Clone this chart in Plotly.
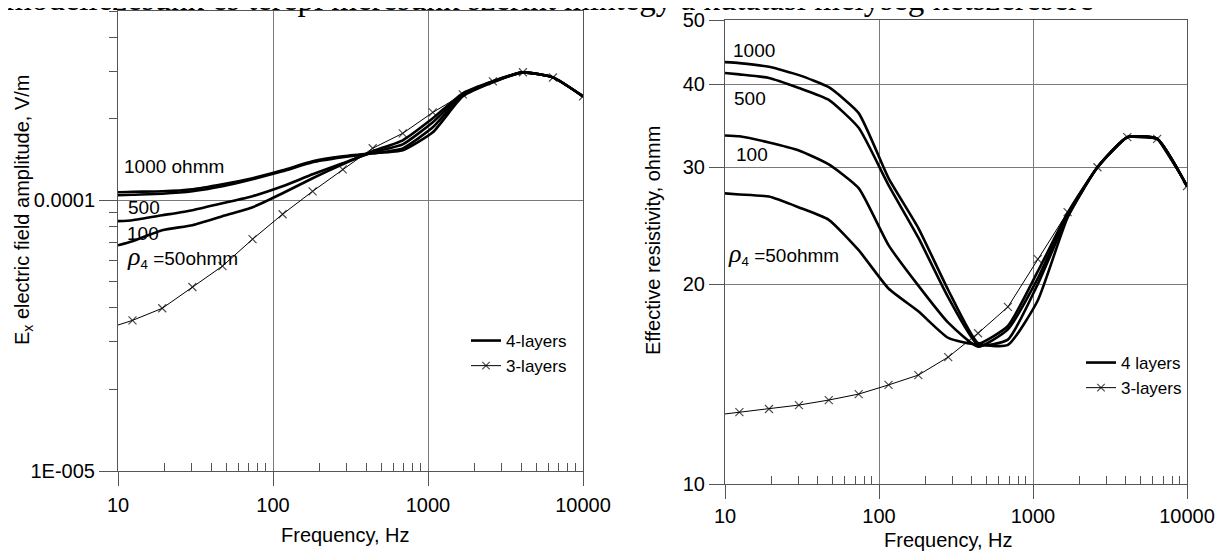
import plotly.graph_objects as go

# ---------------- data ----------------
freqs = [10, 12.4, 19.3, 30.2, 47.2, 73.8, 115.3, 180.1, 281.5, 439.8, 687.2,
         1073.7, 1677.7, 2621.4, 4096, 6400, 10000]

# Left panel: Ex electric field amplitude, V/m
E_1000 = [1.070e-4, 1.075e-4, 1.079e-4, 1.098e-4, 1.146e-4, 1.206e-4, 1.290e-4, 1.393e-4, 1.453e-4,
          1.491e-4, 1.529e-4, 1.782e-4, 2.420e-4, 2.725e-4, 2.967e-4, 2.843e-4, 2.420e-4]
E_500 = [1.043e-4, 1.048e-4, 1.057e-4, 1.079e-4, 1.126e-4, 1.195e-4, 1.279e-4, 1.381e-4, 1.441e-4,
         1.491e-4, 1.555e-4, 1.859e-4, 2.440e-4, 2.737e-4, 2.967e-4, 2.843e-4, 2.420e-4]
E_100 = [0.837e-4, 0.844e-4, 0.880e-4, 0.919e-4, 0.975e-4, 1.035e-4, 1.126e-4, 1.247e-4, 1.369e-4,
         1.504e-4, 1.609e-4, 1.941e-4, 2.461e-4, 2.749e-4, 2.967e-4, 2.843e-4, 2.420e-4]
E_50 = [0.682e-4, 0.706e-4, 0.775e-4, 0.809e-4, 0.873e-4, 0.942e-4, 1.061e-4, 1.206e-4, 1.358e-4,
        1.517e-4, 1.665e-4, 2.007e-4, 2.482e-4, 2.749e-4, 2.967e-4, 2.843e-4, 2.420e-4]
E_3L = [0.346e-4, 0.360e-4, 0.399e-4, 0.478e-4, 0.571e-4, 0.718e-4, 0.888e-4, 1.079e-4, 1.300e-4,
        1.556e-4, 1.767e-4, 2.110e-4, 2.460e-4, 2.750e-4, 2.970e-4, 2.840e-4, 2.420e-4]

# Right panel: effective resistivity, ohmm
R_1000 = [43.2, 43.05, 42.5, 41.3, 39.6, 36.2, 28.9, 24.3, 19.6, 16.3, 16.2, 18.9, 25.2, 30.0, 33.3, 33.1, 28.1]
R_500 = [41.6, 41.4, 40.9, 39.5, 37.9, 34.4, 28.2, 23.5, 19.1, 16.2, 16.5, 20.0, 25.3, 30.0, 33.3, 33.1, 28.1]
R_100 = [33.5, 33.4, 32.7, 31.8, 30.3, 27.9, 22.9, 19.9, 17.5, 16.1, 17.1, 20.4, 25.5, 30.0, 33.3, 33.1, 28.1]
R_50 = [27.4, 27.3, 27.1, 26.1, 25.0, 22.5, 19.7, 18.2, 16.6, 16.25, 17.3, 20.9, 25.6, 30.0, 33.3, 33.1, 28.1]
R_3L = [12.75, 12.83, 12.97, 13.15, 13.38, 13.66, 14.10, 14.59, 15.53, 16.87, 18.48, 21.82, 25.68, 30.0, 33.3, 33.1, 28.1]

x_ticks = [10, 100, 1000, 10000]
x_ticktext = ["10", "100", "1000", "10000"]
x_minor = [20, 30, 40, 50, 60, 70, 80, 90, 200, 300, 400, 500, 600, 700, 800, 900,
           2000, 3000, 4000, 5000, 6000, 7000, 8000, 9000]
yL_ticks = [1e-5, 1e-4]
yL_ticktext = ["1E-005", "0.0001"]
yL_minor = [2e-5, 3e-5, 4e-5, 5e-5, 6e-5, 7e-5, 8e-5, 9e-5, 2e-4, 3e-4, 4e-4, 5e-4]
yR_ticks = [10, 20, 30, 40, 50]

# ---------------- figure ----------------
W, H = 1223, 551
OFF = 8  # page offset of the figure inside the browser window
SANS = "Liberation Sans"
SERIF = "Liberation Serif"
GRID = "#7a7a7a"
AX = "#555555"

fig = go.Figure()

thick = dict(color="black", width=2.6, shape="spline", smoothing=0.5)
thin = dict(color="black", width=1)
msizes = [0] + [8] * (len(freqs) - 1)

for i, vals in enumerate([E_1000, E_500, E_100, E_50]):
    fig.add_trace(go.Scatter(x=freqs, y=vals, mode="lines", line=thick, name="4-layers",
                             showlegend=(i == 0), legendgroup="l4", legend="legend",
                             xaxis="x", yaxis="y"))
fig.add_trace(go.Scatter(x=freqs, y=E_3L, mode="lines+markers", line=thin, name="3-layers",
                         marker=dict(symbol="x-thin-open", size=msizes, color="black",
                                     line=dict(width=1.2, color="black")),
                         legendgroup="l3", legend="legend", xaxis="x", yaxis="y"))

for i, vals in enumerate([R_1000, R_500, R_100, R_50]):
    fig.add_trace(go.Scatter(x=freqs, y=vals, mode="lines", line=thick, name="4 layers",
                             showlegend=(i == 0), legendgroup="r4", legend="legend2",
                             xaxis="x2", yaxis="y2"))
fig.add_trace(go.Scatter(x=freqs, y=R_3L, mode="lines+markers", line=thin, name="3-layers",
                         marker=dict(symbol="x-thin-open", size=msizes, color="black",
                                     line=dict(width=1.2, color="black")),
                         legendgroup="r3", legend="legend2", xaxis="x2", yaxis="y2"))


def px_x(p):
    return (p - OFF) / W


def px_y(p):
    return (H - (p - OFF)) / H


xdomL = [px_x(118), px_x(583)]
ydomL = [px_y(471), px_y(11)]
xdomR = [px_x(725), px_x(1187)]
ydomR = [px_y(484), px_y(20)]

tickfont = dict(family=SANS, size=20, color="black")


def x_axis(domain, anchor, standoff):
    return dict(domain=domain, anchor=anchor, type="log", range=[1, 4],
                tickmode="array", tickvals=x_ticks, ticktext=x_ticktext,
                ticks="outside", ticklen=14, tickcolor=AX, tickwidth=1,
                showgrid=True, gridcolor=GRID, gridwidth=1,
                showline=True, linecolor=AX, linewidth=1, mirror=True, zeroline=False,
                tickfont=tickfont, ticklabelstandoff=standoff,
                minor=dict(tickmode="array", tickvals=x_minor, ticks="inside", ticklen=8,
                           tickcolor=AX, tickwidth=1, showgrid=False))


fig.update_layout(
    width=W, height=H,
    margin=dict(l=0, r=0, t=0, b=0, autoexpand=False),
    paper_bgcolor="white", plot_bgcolor="white",
    font=dict(family=SANS, size=17, color="black"),
    xaxis=x_axis(xdomL, "y", 2),
    xaxis2=x_axis(xdomR, "y2", 0),
    yaxis=dict(domain=ydomL, anchor="x", type="log", range=[-5, -3.30103],
               tickmode="array", tickvals=yL_ticks, ticktext=yL_ticktext,
               ticks="outside", ticklen=18, tickcolor=AX, tickwidth=1,
               showgrid=True, gridcolor=GRID, gridwidth=1,
               showline=True, linecolor=AX, linewidth=1, mirror=True, zeroline=False,
               tickfont=tickfont,
               minor=dict(tickmode="array", tickvals=yL_minor, ticks="outside", ticklen=8,
                          tickcolor=AX, tickwidth=1, showgrid=False)),
    yaxis2=dict(domain=ydomR, anchor="x2", type="log", range=[1, 1.69897],
                tickmode="array", tickvals=yR_ticks, ticktext=[str(v) for v in yR_ticks],
                ticks="outside", ticklen=15, tickcolor=AX, tickwidth=1,
                showgrid=True, gridcolor=GRID, gridwidth=1,
                showline=True, linecolor=AX, linewidth=1, mirror=True, zeroline=False,
                tickfont=tickfont),
    legend=dict(x=px_x(466), y=px_y(323), xanchor="left", yanchor="top",
                bgcolor="rgba(0,0,0,0)", font=dict(family=SANS, size=17),
                traceorder="grouped", tracegroupgap=0),
    legend2=dict(x=px_x(1081), y=px_y(345), xanchor="left", yanchor="top",
                 bgcolor="rgba(0,0,0,0)", font=dict(family=SANS, size=17),
                 traceorder="grouped", tracegroupgap=0),
)

rho = '<span style="font-family:Liberation Serif;font-size:26px"><i>ρ</i></span><sub>4</sub> =50ohmm'

annots = [
    # cut-off text line at the top of the page
    dict(text="modellezésünk és terepi mérésünk szerint mintegy a kutatási mélység kétszeresére",
         xref="paper", yref="paper", x=px_x(4), y=px_y(19), xanchor="left", yanchor="bottom",
         font=dict(family=SERIF, size=33, color="black")),
    # left panel curve labels
    dict(text="1000 ohmm", xref="x domain", yref="y domain", x=0.009, y=0.661),
    dict(text="500", xref="x domain", yref="y domain", x=0.018, y=0.572),
    dict(text="100", xref="x domain", yref="y domain", x=0.016, y=0.516),
    dict(text=rho, xref="x domain", yref="y domain", x=0.014, y=0.466),
    # right panel curve labels
    dict(text="1000", xref="x2 domain", yref="y2 domain", x=0.013, y=0.935),
    dict(text="500", xref="x2 domain", yref="y2 domain", x=0.015, y=0.830),
    dict(text="100", xref="x2 domain", yref="y2 domain", x=0.019, y=0.711),
    dict(text=rho, xref="x2 domain", yref="y2 domain", x=0.002, y=0.496),
    # axis titles
    dict(text="E<sub>x</sub> electric field amplitude, V/m", xref="paper", yref="paper",
         x=px_x(23), y=px_y(210), textangle=-90, xanchor="center", yanchor="middle",
         font=dict(family=SANS, size=20)),
    dict(text="Effective resistivity, ohmm", xref="paper", yref="paper",
         x=px_x(653), y=px_y(240), textangle=-90, xanchor="center", yanchor="middle",
         font=dict(family=SANS, size=20)),
    dict(text="Frequency, Hz", xref="paper", yref="paper", x=px_x(345), y=px_y(535),
         xanchor="center", yanchor="middle", font=dict(family=SANS, size=20)),
    dict(text="Frequency, Hz", xref="paper", yref="paper", x=px_x(948), y=px_y(540),
         xanchor="center", yanchor="middle", font=dict(family=SANS, size=20)),
]
for a in annots:
    a.setdefault("showarrow", False)
    a.setdefault("xanchor", "left")
    a.setdefault("yanchor", "middle")
    a.setdefault("font", dict(family=SANS, size=19, color="black"))
fig.update_layout(annotations=annots)

fig.write_html("out.html")
